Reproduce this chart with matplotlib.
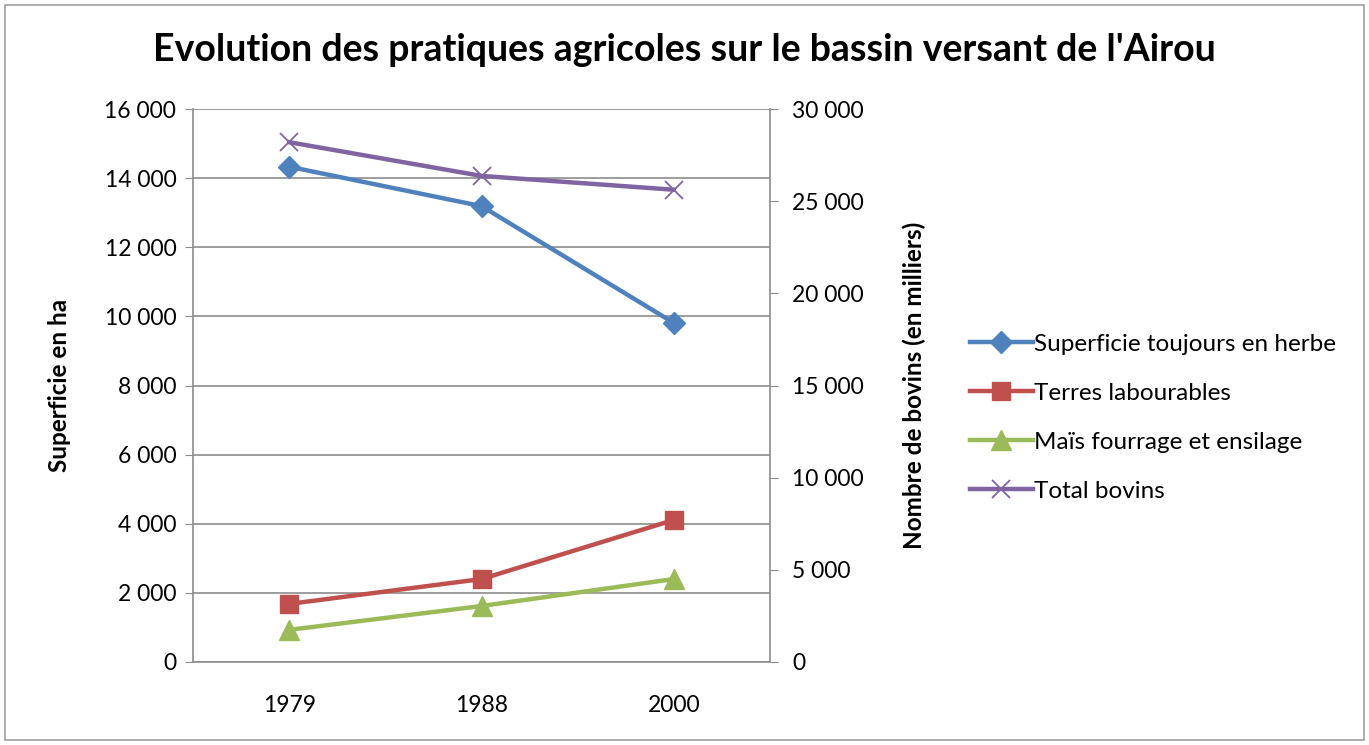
import matplotlib
matplotlib.use("Agg")
import matplotlib.pyplot as plt
from matplotlib.ticker import FuncFormatter, MultipleLocator
from matplotlib.patches import Rectangle

plt.rcParams['font.family'] = ['Lato', 'DejaVu Sans']

# ---- data ----
years = ["1979", "1988", "2000"]
herbe = [14330, 13190, 9810]
labourables = [1680, 2400, 4110]
mais = [930, 1620, 2400]
bovins = [28200, 26370, 25620]

BLUE = "#4F81BD"
RED = "#C0504D"
GREEN = "#9BBB59"
PURPLE = "#8064A2"
GRID = "#8c8c8c"


def fmt_thousands(v, _pos):
    return f"{int(v):,}".replace(",", " ")


fig = plt.figure(figsize=(13.69, 7.45), dpi=100)
ax = fig.add_axes([193 / 1369, 83 / 745, 577 / 1369, 553 / 745])
ax2 = ax.twinx()

x = range(len(years))
l1, = ax.plot(x, herbe, color=BLUE, lw=3.2, marker="D", ms=11, label="Superficie toujours en herbe")
l2, = ax.plot(x, labourables, color=RED, lw=3.2, marker="s", ms=13, label="Terres labourables")
l3, = ax.plot(x, mais, color=GREEN, lw=3.2, marker="^", ms=14, label="Maïs fourrage et ensilage")
l4, = ax2.plot(x, bovins, color=PURPLE, lw=3.2, marker="x", ms=13, mew=1.3, label="Total bovins")

ax.set_xlim(-0.5, 2.5)
ax.set_ylim(0, 16000)
ax2.set_ylim(0, 30000)
ax.yaxis.set_major_locator(MultipleLocator(2000))
ax2.yaxis.set_major_locator(MultipleLocator(5000))
ax.yaxis.set_major_formatter(FuncFormatter(fmt_thousands))
ax2.yaxis.set_major_formatter(FuncFormatter(fmt_thousands))
ax.set_xticks(list(x))
ax.set_xticklabels(years)

ax.grid(axis="y", color=GRID, lw=1.2)
ax.set_axisbelow(True)
for a in (ax, ax2):
    for s in a.spines.values():
        s.set_color(GRID)
        s.set_linewidth(1.2)
    a.spines["top"].set_visible(False)
ax.spines["right"].set_visible(False)
ax2.spines["left"].set_visible(False)
ax2.spines["bottom"].set_visible(False)

ax.tick_params(axis="y", length=6, color=GRID, labelsize=16.5, pad=6)
ax.tick_params(axis="x", length=0, labelsize=16.5, pad=24)
ax2.tick_params(axis="y", length=6, color=GRID, labelsize=16.5, pad=10)

ax.set_ylabel("Superficie en ha", fontsize=17.5, fontweight="bold", labelpad=24)
ax2.set_ylabel("Nombre de bovins (en milliers)", fontsize=17.5, fontweight="bold", labelpad=28)

fig.text(0.5, 1 - 50 / 745, "Evolution des pratiques agricoles sur le bassin versant de l'Airou",
         ha="center", va="center", fontsize=27, fontweight="bold")

fig.legend(handles=[l1, l2, l3, l4], loc="upper left", bbox_to_anchor=(960 / 1369, 1 - 324 / 745),
           frameon=False, fontsize=17.5, handlelength=2.6, handletextpad=0.05,
           labelspacing=1.15, borderaxespad=0)

fig.patches.append(Rectangle((5 / 1369, 5 / 745), 1 - 10 / 1369, 1 - 10 / 745,
                             transform=fig.transFigure, fill=False, edgecolor="#a0a0a0", lw=1.2))

fig.savefig("out.png", dpi=100)
